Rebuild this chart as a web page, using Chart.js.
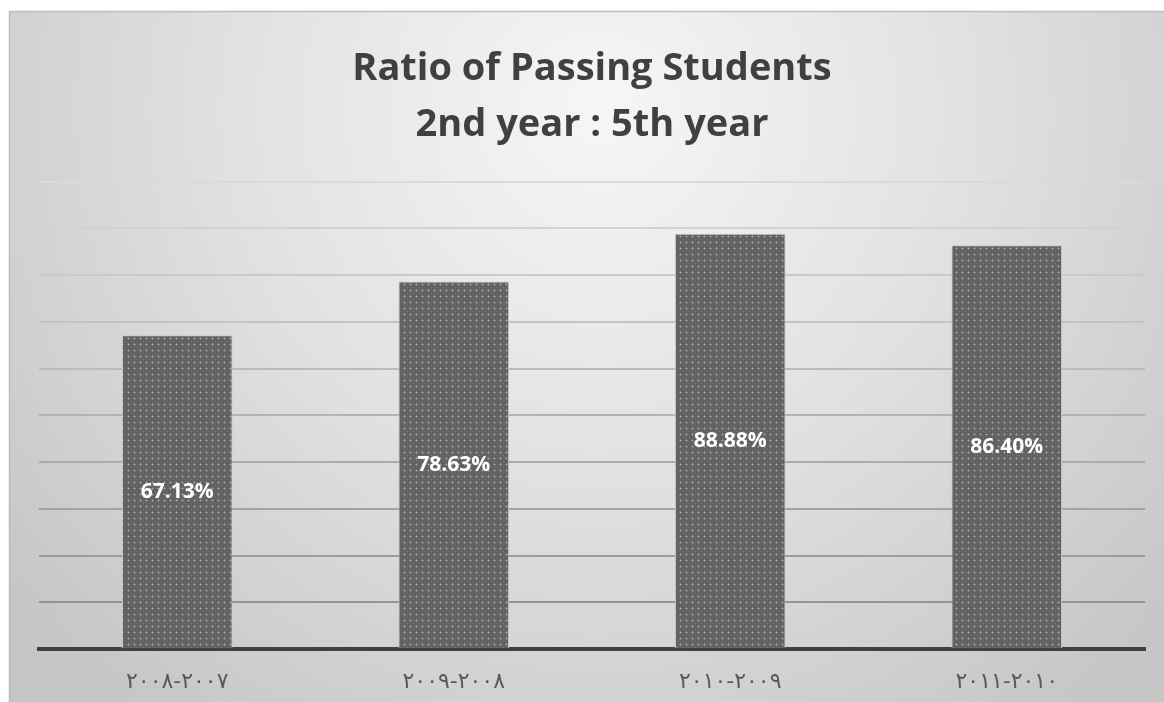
<!DOCTYPE html>
<html>
<head>
<meta charset="utf-8">
<script src="https://cdn.jsdelivr.net/npm/chart.js@4/dist/chart.umd.min.js"></script>
<style>
html,body{margin:0;padding:0;background:#fff;}
#wrap{width:1164px;height:702px;}
</style>
</head>
<body>
<div id="wrap"><canvas id="c" width="1164" height="702"></canvas></div>
<script>
const categories = ["٢٠٠٧-٢٠٠٨", "٢٠٠٨-٢٠٠٩", "٢٠٠٩-٢٠١٠", "٢٠١٠-٢٠١١"];
const passRatio = [67.13, 78.63, 88.88, 86.40];
const valueLabels = ["67.13%", "78.63%", "88.88%", "86.40%"];
const titleLines = ["Ratio of Passing Students", "2nd year : 5th year"];

function makePattern() {
  const p = document.createElement('canvas');
  p.width = 6; p.height = 6;
  const g = p.getContext('2d');
  g.fillStyle = '#626262';
  g.fillRect(0, 0, 6, 6);
  g.fillStyle = '#868686';
  g.fillRect(1, 2, 3, 1);
  g.fillRect(2, 1, 1, 3);
  g.fillStyle = '#a6a6a6';
  g.fillRect(2, 2, 1, 1);
  g.fillStyle = '#707070';
  g.fillRect(5, 5, 1, 1);
  return document.getElementById('c').getContext('2d').createPattern(p, 'repeat');
}

const bgPlugin = {
  id: 'bg',
  beforeDraw(chart) {
    const ctx = chart.ctx;
    ctx.save();
    ctx.fillStyle = '#ffffff';
    ctx.fillRect(0, 0, chart.width, chart.height);
    const grad = ctx.createRadialGradient(600, 110, 20, 600, 110, 760);
    grad.addColorStop(0, '#f5f5f5');
    grad.addColorStop(0.45, '#e2e2e2');
    grad.addColorStop(1, '#c6c6c6');
    ctx.fillStyle = grad;
    ctx.fillRect(9, 11, chart.width - 9, chart.height - 11);
    ctx.strokeStyle = '#bdbdbd';
    ctx.lineWidth = 1.5;
    ctx.beginPath();
    ctx.moveTo(9.5, chart.height);
    ctx.lineTo(9.5, 11.5);
    ctx.lineTo(chart.width, 11.5);
    ctx.stroke();
    ctx.restore();
  }
};

const labelPlugin = {
  id: 'vlabels',
  afterDatasetsDraw(chart) {
    const ctx = chart.ctx;
    const meta = chart.getDatasetMeta(0);
    ctx.save();
    ctx.fillStyle = '#ffffff';
    ctx.font = 'bold 21px "Open Sans", Lato, sans-serif';
    ctx.textAlign = 'center';
    ctx.textBaseline = 'middle';
    meta.data.forEach((bar, i) => {
      const y = (bar.y + bar.base) / 2;
      ctx.fillText(valueLabels[i], bar.x, y);
    });
    ctx.restore();
  }
};

function gridColor(ctx) {
  const n = 10;
  const t = Math.min(1, Math.max(0, ctx.index / n));
  const top = [218, 218, 218], bottom = [140, 140, 140];
  const c = bottom.map((v, k) => Math.round(v + (top[k] - v) * t));
  return `rgb(${c[0]},${c[1]},${c[2]})`;
}

new Chart(document.getElementById('c'), {
  type: 'bar',
  data: {
    labels: categories,
    datasets: [{
      data: passRatio,
      backgroundColor: makePattern(),
      borderColor: '#c8c8c8',
      borderWidth: {left: 1, right: 1, top: 1, bottom: 0},
      categoryPercentage: 0.8,
      barPercentage: 0.5
    }]
  },
  options: {
    responsive: false,
    animation: false,
    layout: {padding: {top: 11, left: 39, right: 19, bottom: 0}},
    plugins: {
      legend: {display: false},
      tooltip: {enabled: false},
      title: {
        display: true,
        text: titleLines,
        color: '#404040',
        font: {family: '"Open Sans", Lato, sans-serif', size: 38, weight: 'bold', lineHeight: 1.47},
        padding: {top: 30, bottom: 29}
      }
    },
    scales: {
      x: {
        grid: {display: false, drawTicks: false},
        border: {display: true, color: '#404040', width: 4},
        ticks: {color: '#595959', font: {family: '"DejaVu Sans", sans-serif', size: 22}, padding: 20},
        afterFit: (scale) => { scale.height = 53; }
      },
      y: {
        min: 0, max: 100,
        ticks: {display: false, stepSize: 10},
        border: {display: false},
        grid: {color: gridColor, lineWidth: 2, drawTicks: false}
      }
    }
  },
  plugins: [bgPlugin, labelPlugin]
});
</script>
</body>
</html>
